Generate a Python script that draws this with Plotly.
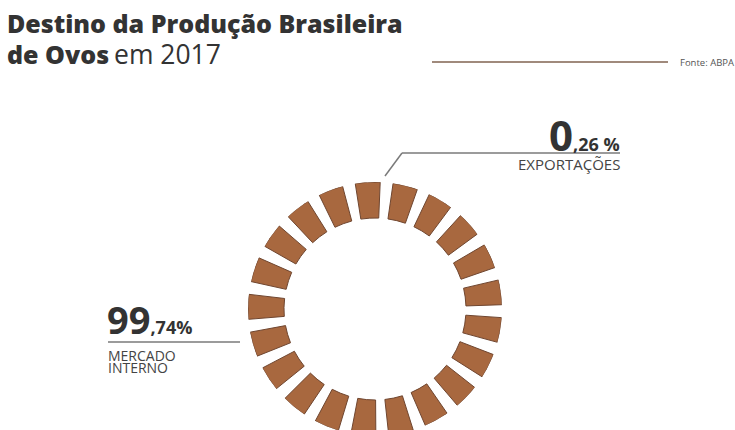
import plotly.graph_objects as go

# Destino da produção brasileira de ovos em 2017 (fonte: ABPA)
categorias = ["MERCADO INTERNO", "EXPORTAÇÕES"]
valores = [99.74, 0.26]
inteiros = ["99", "0"]
decimais = [",74%", ",26 %"]

W, H = 735, 436
COR_ANEL = "#a8683f"
COR_BORDA = "#6f4630"
COR_TEXTO = "#333333"
FONTE = "Open Sans"


def px(x):
    return x / W


def py(y):
    return 1 - y / H


# ring of equal blocks covering the whole production (100%)
n_blocos = 21
total = sum(valores)
passo = 360 * total / 100 / n_blocos
angulos = [-3.3 + k * passo for k in range(n_blocos)]
r_int, r_ext = 91, 127

fig = go.Figure()
fig.add_trace(go.Barpolar(
    theta=angulos,
    r=[r_ext - r_int] * n_blocos,
    base=[r_int] * n_blocos,
    width=[11.3] * n_blocos,
    marker=dict(color=COR_ANEL, line=dict(color=COR_BORDA, width=1)),
    hoverinfo="skip",
    showlegend=False,
))

cx, cy = 375, 309
fig.update_layout(
    width=W, height=H,
    margin=dict(l=0, r=0, t=0, b=0),
    paper_bgcolor="white",
    plot_bgcolor="white",
    polar=dict(
        domain=dict(x=[px(cx - r_ext), px(cx + r_ext)],
                    y=[py(cy + r_ext), py(cy - r_ext)]),
        bgcolor="rgba(0,0,0,0)",
        radialaxis=dict(range=[0, r_ext], visible=False, showgrid=False),
        angularaxis=dict(visible=False, rotation=90, direction="clockwise",
                         showgrid=False),
        bargap=0,
    ),
)

anot = []


def texto(x, y, s, size, xanchor="left", yanchor="middle", color=COR_TEXTO,
          family=FONTE, weight="normal"):
    anot.append(dict(
        x=px(x), y=py(y), xref="paper", yref="paper",
        text=s, showarrow=False, xanchor=xanchor, yanchor=yanchor,
        font=dict(size=size, color=color, family=family, weight=weight),
        borderpad=0,
    ))


# title
texto(6, 23, "Destino da Produção Brasileira", 25, weight=800)
texto(6, 54, "de Ovos", 25, weight=800)
texto(113, 54, "em 2017", 26.5)
texto(735, 62, "Fonte: ABPA", 9.5, xanchor="right", color="#555555")

# exportações
texto(621, 134,
      f"<b>{inteiros[1]}</b><span style='font-size:18px'><b>{decimais[1]}</b></span>",
      42, xanchor="right", weight=800)
texto(621, 164, categorias[1], 15, xanchor="right", color="#444444")

# mercado interno
texto(106, 319,
      f"<b>{inteiros[0]}</b><span style='font-size:18px'><b>{decimais[0]}</b></span>",
      38, weight=800)
palavras = categorias[0].split(" ")
texto(107, 355, palavras[0], 14, color="#444444")
texto(107, 367.5, palavras[1], 14, color="#444444")

fig.update_layout(annotations=anot)

# rules and leader lines
linhas = [
    (432, 62, 668, 62, "#a08a7c", 2),
    (402, 153, 620, 153, "#7a7a7a", 1.5),
    (402, 153, 385, 176, "#7a7a7a", 1.5),
    (108, 342, 240, 342, "#7a7a7a", 1.5),
]
fig.update_layout(shapes=[
    dict(type="line", xref="paper", yref="paper",
         x0=px(a), y0=py(b), x1=px(c), y1=py(d),
         line=dict(color=cor, width=w))
    for a, b, c, d, cor, w in linhas
])

fig.write_html("out.html")
